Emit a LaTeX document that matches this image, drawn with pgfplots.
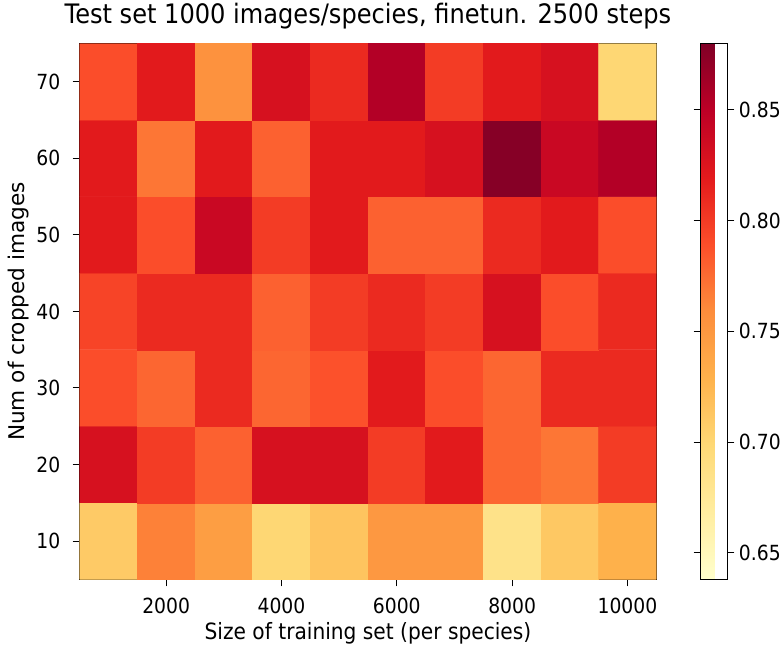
\documentclass[border=0pt]{standalone}
\usepackage{pgfplots}
\pgfplotsset{compat=1.18}
\usepackage{fontspec}
\setmainfont{DejaVu Sans}[FakeStretch=0.9]
\newfontfamily\ylf{DejaVu Sans}
\pgfplotstableread{
x y z
1000 10 0.710
2000 10 0.765
3000 10 0.745
4000 10 0.700
5000 10 0.715
6000 10 0.750
7000 10 0.750
8000 10 0.685
9000 10 0.712
10000 10 0.730
1000 20 0.830
2000 20 0.800
3000 20 0.780
4000 20 0.830
5000 20 0.830
6000 20 0.800
7000 20 0.820
8000 20 0.778
9000 20 0.770
10000 20 0.800
1000 30 0.790
2000 30 0.778
3000 30 0.810
4000 30 0.778
5000 30 0.788
6000 30 0.820
7000 30 0.790
8000 30 0.778
9000 30 0.810
10000 30 0.810
1000 40 0.795
2000 40 0.810
3000 40 0.810
4000 40 0.780
5000 40 0.800
6000 40 0.810
7000 40 0.800
8000 40 0.830
9000 40 0.790
10000 40 0.810
1000 50 0.820
2000 50 0.790
3000 50 0.840
4000 50 0.800
5000 50 0.820
6000 50 0.780
7000 50 0.780
8000 50 0.810
9000 50 0.820
10000 50 0.790
1000 60 0.820
2000 60 0.770
3000 60 0.820
4000 60 0.780
5000 60 0.820
6000 60 0.820
7000 60 0.830
8000 60 0.877
9000 60 0.840
10000 60 0.855
1000 70 0.790
2000 70 0.820
3000 70 0.755
4000 70 0.830
5000 70 0.810
6000 70 0.855
7000 70 0.800
8000 70 0.820
9000 70 0.830
10000 70 0.700
}\datatable
\begin{document}
\begin{tikzpicture}[font=\fontsize{21}{25}\selectfont]
\begin{axis}[
  name=main,
  scale only axis,
  width=579bp, height=538bp,
  xmin=500, xmax=10500, ymin=5, ymax=75,
  xtick={2000,4000,6000,8000,10000},
  ytick={10,20,30,40,50,60,70},
  scaled x ticks=false,
  /pgf/number format/assume math mode=true,
  tick label style={font=\fontsize{21}{25}\selectfont},
  xticklabel style={yshift=-8bp, /pgf/number format/.cd, 1000 sep={}},
  yticklabel style={xshift=-9bp},
  tick align=outside,
  xtick pos=bottom, ytick pos=left,
  major tick length=7bp,
  tick style={black, line width=1bp},
  axis line style={black, line width=1bp},
  title={Test set 1000 images/species, finetun. 2500 steps},
  title style={font=\fontsize{27}{31}\selectfont, at={(axis description cs:0.5,1)}, anchor=base, yshift=14bp},
  xlabel={Size of training set (per species)},
  xlabel style={font=\fontsize{22.6}{26}\selectfont, at={(axis description cs:0.5,0)}, anchor=base, yshift=-60bp},
  ylabel={Num of cropped images},
  ylabel style={font=\ylf\fontsize{21.8}{26}\selectfont, at={(axis description cs:-0.1062,0.5)}, anchor=center},
  colormap={ylorrd}{rgb255=(255,255,204) rgb255=(255,237,160) rgb255=(254,217,118) rgb255=(254,178,76) rgb255=(253,141,60) rgb255=(252,78,42) rgb255=(227,26,28) rgb255=(189,0,38) rgb255=(128,0,38)},
  point meta min=0.638, point meta max=0.880,
  colorbar,
  colorbar style={
    at={(parent axis.north east)}, anchor=north west, xshift=36bp,
    width=27bp,
    ytick={0.65,0.70,0.75,0.80,0.85},
    yticklabel style={font=\fontsize{21}{25}\selectfont, xshift=1bp, /pgf/number format/.cd, fixed, fixed zerofill, precision=2, assume math mode=true},
    tick align=outside,
    major tick length=7bp,
    tick style={black, line width=1bp},
    axis line style={black, line width=1bp},
  },
]
\addplot[matrix plot*, mesh/cols=10, point meta=explicit, shader=flat corner] table[x=x, y=y, meta=z] {\datatable};
\end{axis}
\path (main.south west) ++(-80bp,-64bp) rectangle ++(784bp,643bp);
\end{tikzpicture}
\end{document}
